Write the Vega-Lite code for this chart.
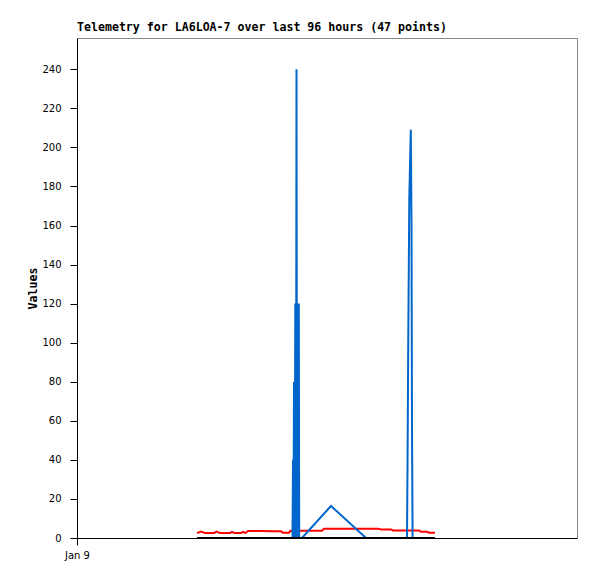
{
  "$schema": "https://vega.github.io/schema/vega-lite/v6.json",
  "autosize": {"type": "none"},
  "padding": {"left": 77, "top": 38, "right": 20, "bottom": 41},
  "width": 500,
  "height": 500,
  "background": "white",
  "title": {
    "text": "Telemetry for LA6LOA-7 over last 96 hours (47 points)",
    "anchor": "start",
    "frame": "group",
    "font": "DejaVu Sans Mono",
    "fontSize": 11.6,
    "fontWeight": "bold",
    "color": "black",
    "offset": 4
  },
  "config": {
    "view": {"stroke": "#888888", "strokeWidth": 1},
    "axis": {"grid": false, "domainColor": "black", "tickColor": "black", "labelColor": "black", "titleColor": "black"}
  },
  "datasets": {
    "tele": [
      {"series": "red", "t": 24.0, "v": 2.5},
      {"series": "red", "t": 24.8, "v": 3.3},
      {"series": "red", "t": 25.6, "v": 2.5},
      {"series": "red", "t": 27.4, "v": 2.5},
      {"series": "red", "t": 27.9, "v": 3.3},
      {"series": "red", "t": 28.6, "v": 2.5},
      {"series": "red", "t": 30.6, "v": 2.5},
      {"series": "red", "t": 31.0, "v": 3.1},
      {"series": "red", "t": 31.5, "v": 2.5},
      {"series": "red", "t": 32.8, "v": 2.5},
      {"series": "red", "t": 33.2, "v": 3.1},
      {"series": "red", "t": 33.7, "v": 2.6},
      {"series": "red", "t": 34.2, "v": 3.6},
      {"series": "red", "t": 37.0, "v": 3.6},
      {"series": "red", "t": 38.6, "v": 3.4},
      {"series": "red", "t": 40.8, "v": 3.4},
      {"series": "red", "t": 41.2, "v": 2.7},
      {"series": "red", "t": 42.4, "v": 2.7},
      {"series": "red", "t": 42.7, "v": 3.7},
      {"series": "red", "t": 49.0, "v": 3.7},
      {"series": "red", "t": 49.4, "v": 4.8},
      {"series": "red", "t": 60.2, "v": 4.8},
      {"series": "red", "t": 60.8, "v": 4.4},
      {"series": "red", "t": 62.8, "v": 4.4},
      {"series": "red", "t": 63.2, "v": 3.9},
      {"series": "red", "t": 68.4, "v": 3.9},
      {"series": "red", "t": 68.8, "v": 3.2},
      {"series": "red", "t": 70.0, "v": 3.2},
      {"series": "red", "t": 70.4, "v": 2.7},
      {"series": "red", "t": 71.6, "v": 2.7},
      {"series": "blue", "t": 24.2, "v": 0},
      {"series": "blue", "t": 43.1, "v": 0},
      {"series": "blue", "t": 43.2, "v": 40},
      {"series": "blue", "t": 43.3, "v": 0},
      {"series": "blue", "t": 43.4, "v": 80},
      {"series": "blue", "t": 43.54, "v": 0},
      {"series": "blue", "t": 43.66, "v": 120},
      {"series": "blue", "t": 43.8, "v": 0},
      {"series": "blue", "t": 43.9, "v": 240},
      {"series": "blue", "t": 44.0, "v": 0},
      {"series": "blue", "t": 44.14, "v": 120},
      {"series": "blue", "t": 44.26, "v": 0},
      {"series": "blue", "t": 44.36, "v": 120},
      {"series": "blue", "t": 44.44, "v": 0},
      {"series": "blue", "t": 45.0, "v": 0},
      {"series": "blue", "t": 50.8, "v": 16.4},
      {"series": "blue", "t": 57.8, "v": 0},
      {"series": "blue", "t": 66.0, "v": 0},
      {"series": "blue", "t": 66.1, "v": 35},
      {"series": "blue", "t": 66.26, "v": 104},
      {"series": "blue", "t": 66.46, "v": 174},
      {"series": "blue", "t": 66.76, "v": 209},
      {"series": "blue", "t": 66.9, "v": 161},
      {"series": "blue", "t": 67.0, "v": 56},
      {"series": "blue", "t": 67.12, "v": 0},
      {"series": "blue", "t": 71.6, "v": 0},
      {"series": "black", "t": 24.0, "v": 0},
      {"series": "black", "t": 71.6, "v": 0}
    ]
  },
  "data": {"name": "tele"},
  "encoding": {
    "x": {
      "field": "t", "type": "quantitative",
      "scale": {"domain": [0, 100], "nice": false, "zero": false},
      "axis": {
        "values": [0], "labelExpr": "'Jan 9'", "title": null,
        "tickSize": 7, "labelPadding": 5, "labelFont": "DejaVu Sans", "labelFontSize": 10,
        "domainWidth": 1, "labelFlush": false
      }
    },
    "y": {
      "field": "v", "type": "quantitative",
      "scale": {"domain": [0, 256], "nice": false},
      "axis": {
        "values": [0, 20, 40, 60, 80, 100, 120, 140, 160, 180, 200, 220, 240],
        "title": "Values", "titleFont": "DejaVu Sans Mono", "titleFontSize": 11.6, "titleFontWeight": "bold",
        "titlePadding": 3,
        "tickSize": 7, "labelPadding": 9, "labelFont": "DejaVu Sans", "labelFontSize": 10,
        "domainWidth": 1
      }
    }
  },
  "layer": [
    {"transform": [{"filter": "datum.series === 'red'"}], "mark": {"type": "line", "color": "#ff0000", "strokeWidth": 2}},
    {"transform": [{"filter": "datum.series === 'blue'"}], "mark": {"type": "line", "color": "#0066cc", "strokeWidth": 2}},
    {"transform": [{"filter": "datum.series === 'black'"}], "mark": {"type": "line", "color": "#000000", "strokeWidth": 2}}
  ]
}
